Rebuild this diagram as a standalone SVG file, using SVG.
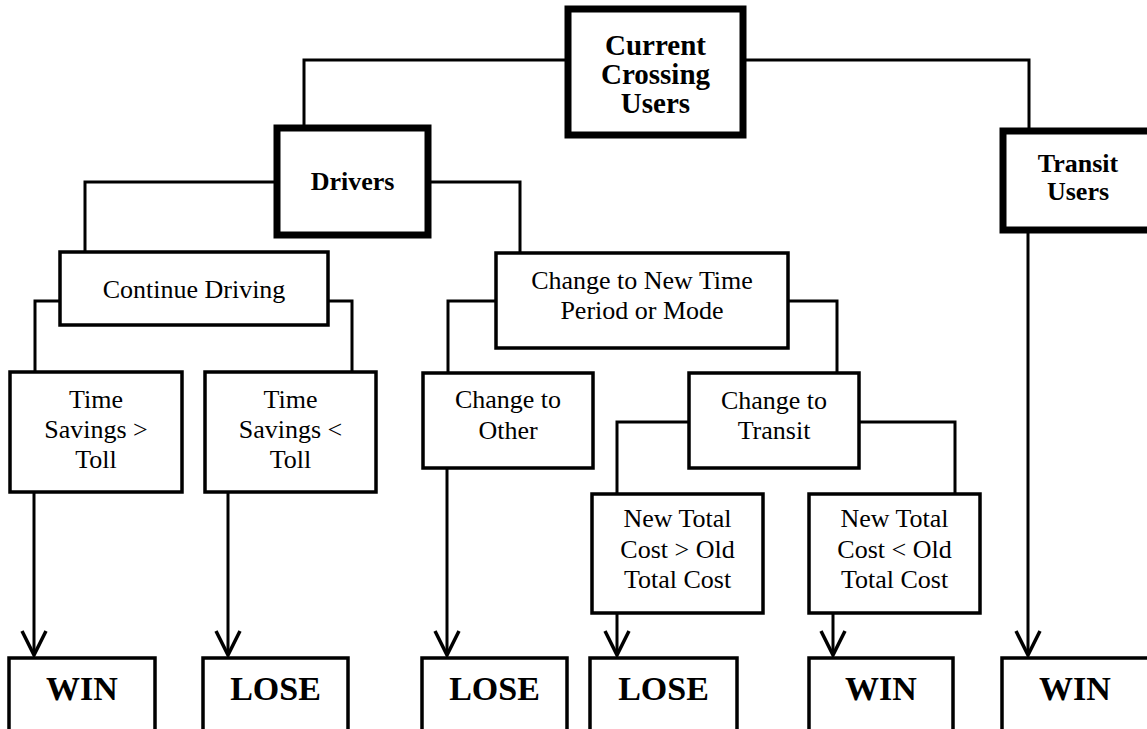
<svg xmlns="http://www.w3.org/2000/svg" width="1147" height="729" viewBox="0 0 1147 729">
<style>
  .thick { fill: #fff; stroke: #000; stroke-width: 7; }
  .box { fill: #fff; stroke: #000; stroke-width: 3.5; }
  .res { fill: #fff; stroke: #000; stroke-width: 3.5; }
  .conn { fill: none; stroke: #000; stroke-width: 3; }
  .arr { fill: none; stroke: #000; stroke-width: 3; marker-end: url(#vhead); }
  text { font-family: "Liberation Serif", "Times New Roman", serif; fill: #000; text-anchor: middle; }
  .b { font-weight: bold; font-size: 26px; }
  .top { font-weight: bold; font-size: 29px; }
  .r { font-size: 26px; }
  .big { font-weight: bold; font-size: 34px; }
</style>
<defs>
  <marker id="vhead" markerUnits="userSpaceOnUse" viewBox="-30 -16 34 32" refX="0" refY="0" markerWidth="34" markerHeight="32" orient="auto" overflow="visible">
    <path d="M-24,-12 L0,0 L-24,12" fill="none" stroke="#000" stroke-width="3.5"/>
  </marker>
</defs>
<rect width="1147" height="729" fill="#fff"/>

<g id="connectors">
  <path class="conn" d="M568,60 H304 V128"/>
  <path class="conn" d="M743,60 H1029 V131"/>
  <path class="conn" d="M277,182 H85 V252"/>
  <path class="conn" d="M428,182 H520 V253"/>
  <path class="conn" d="M60,301 H35 V372"/>
  <path class="conn" d="M328,301 H352 V372"/>
  <path class="conn" d="M496,301 H448 V373"/>
  <path class="conn" d="M788,301 H837 V373"/>
  <path class="conn" d="M689,422 H617 V494"/>
  <path class="conn" d="M859,422 H955 V494"/>
  <path class="arr" d="M34,492 V655"/>
  <path class="arr" d="M228,492 V655"/>
  <path class="arr" d="M447,468 V655"/>
  <path class="arr" d="M617,613 V655"/>
  <path class="arr" d="M833,613 V655"/>
  <path class="arr" d="M1028,230 V655"/>
</g>

<g id="current">
  <rect class="thick" x="568" y="9" width="175" height="126"/>
  <text class="top" x="655.5" y="55">Current</text>
  <text class="top" x="655.5" y="84">Crossing</text>
  <text class="top" x="655.5" y="113">Users</text>
</g>
<g id="drivers">
  <rect class="thick" x="277" y="128" width="151" height="107"/>
  <text class="b" x="352.5" y="190">Drivers</text>
</g>
<g id="transit-users">
  <rect class="thick" x="1003" y="131" width="150" height="99"/>
  <text class="b" x="1078" y="172">Transit</text>
  <text class="b" x="1078" y="200">Users</text>
</g>
<g id="continue-driving">
  <rect class="box" x="60" y="252" width="268" height="73"/>
  <text class="r" x="194" y="298">Continue Driving</text>
</g>
<g id="change-new">
  <rect class="box" x="496" y="253" width="292" height="95"/>
  <text class="r" x="642" y="289">Change to New Time</text>
  <text class="r" x="642" y="319">Period or Mode</text>
</g>
<g id="time-savings-gt">
  <rect class="box" x="10" y="372" width="172" height="120"/>
  <text class="r" x="96" y="408">Time</text>
  <text class="r" x="96" y="438">Savings &gt;</text>
  <text class="r" x="96" y="468">Toll</text>
</g>
<g id="time-savings-lt">
  <rect class="box" x="205" y="372" width="171" height="120"/>
  <text class="r" x="290.5" y="408">Time</text>
  <text class="r" x="290.5" y="438">Savings &lt;</text>
  <text class="r" x="290.5" y="468">Toll</text>
</g>
<g id="change-other">
  <rect class="box" x="423" y="373" width="170" height="95"/>
  <text class="r" x="508" y="408">Change to</text>
  <text class="r" x="508" y="439">Other</text>
</g>
<g id="change-transit">
  <rect class="box" x="689" y="373" width="170" height="95"/>
  <text class="r" x="774" y="409">Change to</text>
  <text class="r" x="774" y="439">Transit</text>
</g>
<g id="cost-gt">
  <rect class="box" x="592" y="494" width="171" height="119"/>
  <text class="r" x="677.5" y="527">New Total</text>
  <text class="r" x="677.5" y="558">Cost &gt; Old</text>
  <text class="r" x="677.5" y="588">Total Cost</text>
</g>
<g id="cost-lt">
  <rect class="box" x="809" y="494" width="171" height="119"/>
  <text class="r" x="894.5" y="527">New Total</text>
  <text class="r" x="894.5" y="558">Cost &lt; Old</text>
  <text class="r" x="894.5" y="588">Total Cost</text>
</g>
<g id="win1">
  <rect class="res" x="9" y="658" width="146" height="90"/>
  <text class="big" x="82" y="700">WIN</text>
</g>
<g id="lose2">
  <rect class="res" x="203" y="658" width="145" height="90"/>
  <text class="big" x="275.5" y="700">LOSE</text>
</g>
<g id="lose3">
  <rect class="res" x="422" y="658" width="145" height="90"/>
  <text class="big" x="494.5" y="700">LOSE</text>
</g>
<g id="lose4">
  <rect class="res" x="590" y="658" width="147" height="90"/>
  <text class="big" x="663.5" y="700">LOSE</text>
</g>
<g id="win5">
  <rect class="res" x="809" y="658" width="144" height="90"/>
  <text class="big" x="881" y="700">WIN</text>
</g>
<g id="win6">
  <rect class="res" x="1002" y="658" width="150" height="90"/>
  <text class="big" x="1075" y="700">WIN</text>
</g>
</svg>
